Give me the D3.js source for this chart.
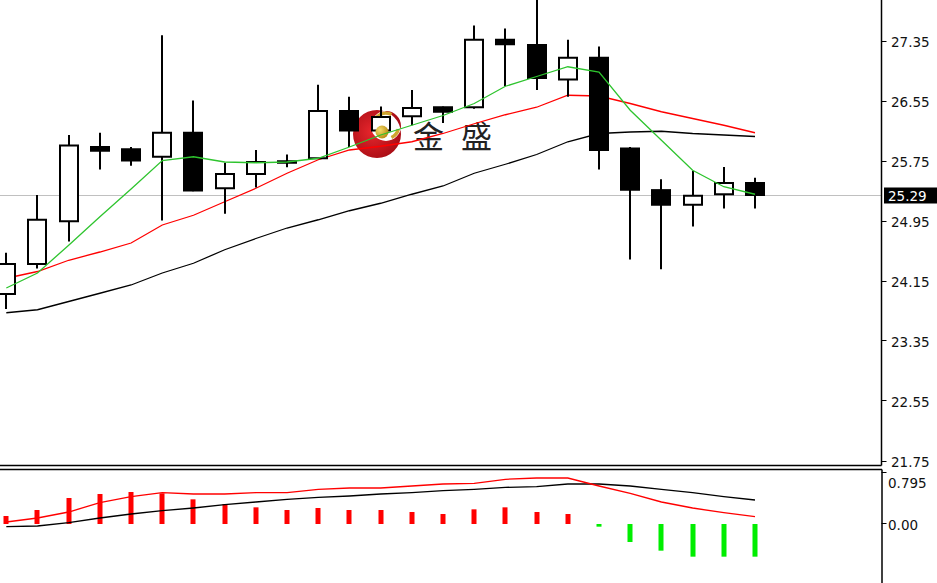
<!DOCTYPE html>
<html>
<head>
<meta charset="utf-8">
<script src="https://cdn.jsdelivr.net/npm/d3@7/dist/d3.min.js"></script>
<style>
html,body{margin:0;padding:0;background:#fff;overflow:hidden;}
svg{display:block;}
</style>
</head>
<body>
<svg id="chart" width="937" height="583"></svg>
<script>
// ---- data ----
const candleIndex = [0,1,2,3,4,5,6,7,8,9,10,11,12,13,14,15,16,17,18,19,20,21,22,23,24];
const openP  = [23.97,24.37,24.94,25.93,25.90,25.80,26.12,25.38,25.57,25.72,25.78,26.41,26.15,26.34,26.46,26.46,27.36,27.29,26.83,27.12,25.91,25.355,25.16,25.30,25.45];
const highP  = [24.52,25.29,26.09,26.12,25.93,27.42,26.55,25.72,25.89,25.83,26.76,26.60,26.47,26.69,26.47,27.55,27.51,27.92,27.36,27.27,25.93,25.50,25.61,25.665,25.52];
const lowP   = [23.77,24.31,24.67,25.63,25.68,24.95,25.34,25.04,25.39,25.66,25.77,25.93,26.13,26.22,26.25,26.44,26.74,26.69,26.60,25.63,24.43,24.30,24.87,25.11,25.11];
const closeP = [24.37,24.96,25.95,25.88,25.75,26.12,25.35,25.57,25.73,25.74,26.41,26.15,26.33,26.45,26.40,27.36,27.30,26.85,27.12,25.89,25.36,25.16,25.28,25.45,25.29];

const maFast = [24.05,24.25,24.62,25.00,25.37,25.75,25.80,25.73,25.72,25.73,25.78,25.93,26.09,26.22,26.35,26.51,26.74,26.87,27.00,26.93,26.42,26.02,25.62,25.40,25.30];
const maMid  = [24.18,24.27,24.42,24.53,24.65,24.89,25.02,25.20,25.38,25.58,25.76,25.89,25.94,26.00,26.11,26.24,26.36,26.46,26.62,26.61,26.51,26.40,26.31,26.22,26.12];
const maSlow = [23.72,23.76,23.87,23.98,24.09,24.25,24.38,24.56,24.71,24.85,24.96,25.08,25.18,25.30,25.41,25.58,25.70,25.83,26.00,26.11,26.13,26.14,26.11,26.09,26.07];

const histValues = [0.12,0.21,0.39,0.45,0.48,0.46,0.37,0.30,0.25,0.21,0.24,0.21,0.21,0.18,0.15,0.22,0.25,0.18,0.15,-0.04,-0.27,-0.40,-0.49,-0.49,-0.49];
const indRed   = [0.03,0.09,0.18,0.32,0.41,0.47,0.45,0.45,0.47,0.47,0.52,0.54,0.54,0.57,0.60,0.61,0.67,0.69,0.69,0.57,0.46,0.33,0.24,0.17,0.11];
const indBlack = [-0.04,-0.03,0.02,0.09,0.15,0.20,0.24,0.29,0.33,0.37,0.40,0.42,0.45,0.47,0.50,0.52,0.55,0.56,0.60,0.60,0.57,0.52,0.47,0.41,0.36];

const priceTicks = [27.35,26.55,25.75,24.95,24.15,23.35,22.55,21.75];
const priceTickLabels = ["27.35","26.55","25.75","24.95","24.15","23.35","22.55","21.75"];
const indTicks = [0.795, 0.00];
const indTickLabels = ["0.795","0.00"];
const currentPrice = 25.29;
const currentPriceLabel = "25.29";
const logoChars = ["金", "盛"];

// ---- layout ----
const W = 937, H = 583;
const plotRight = 881.5;
const mainBottom = 465.5;
const indTop = 469.5;

const svg = d3.select("#chart");
const defs = svg.append("defs");

const x = d3.scaleLinear().domain([0, 24]).range([6.3, 755]);
const y = d3.scaleLinear().domain([21.75, 27.35]).range([460.5, 40.5]);
const yi = d3.scaleLinear().domain([0, 0.795]).range([524, 471]);

svg.append("rect").attr("width", W).attr("height", H).attr("fill", "#fff");

defs.append("clipPath").attr("id", "mainClip")
  .append("rect").attr("x", 0).attr("y", 0).attr("width", plotRight).attr("height", mainBottom);
defs.append("clipPath").attr("id", "indClip")
  .append("rect").attr("x", 0).attr("y", indTop + 1).attr("width", plotRight).attr("height", H - indTop);

const main = svg.append("g").attr("clip-path", "url(#mainClip)");

// current price line
main.append("line")
  .attr("x1", 0).attr("x2", plotRight)
  .attr("y1", Math.round(y(currentPrice)) + 0.5).attr("y2", Math.round(y(currentPrice)) + 0.5)
  .attr("stroke", "#c0c0c0").attr("stroke-width", 1);

// logo (watermark behind the marks)
const logo = main.append("g");
const cx0 = 377, cy0 = 134, R = 24;
const icx = 386, icy = 126, ir = 15;
const crescent = d3.path();
crescent.arc(cx0, cy0, R, 0, 2 * Math.PI);
crescent.moveTo(icx + ir, icy);
crescent.arc(icx, icy, ir, 0, 2 * Math.PI);
const grad = defs.append("radialGradient").attr("id", "redGrad")
  .attr("cx", "40%").attr("cy", "45%").attr("r", "65%");
grad.append("stop").attr("offset", "0%").attr("stop-color", "#e8262c");
grad.append("stop").attr("offset", "100%").attr("stop-color", "#a50c14");
logo.append("path").attr("d", crescent.toString()).attr("fill", "url(#redGrad)").attr("fill-rule", "evenodd");
const goldArc = d3.arc().innerRadius(11).outerRadius(14.5);
logo.append("path")
  .attr("transform", `translate(${icx},${icy})`)
  .attr("d", goldArc({startAngle: -Math.PI * 0.26, endAngle: Math.PI * 0.14}))
  .attr("fill", "#cfa52e");
logo.append("path")
  .attr("transform", `translate(${icx},${icy})`)
  .attr("d", goldArc({startAngle: Math.PI * 0.58, endAngle: Math.PI * 0.86}))
  .attr("fill", "#cfa52e");
const ballGrad = defs.append("radialGradient").attr("id", "ballGrad")
  .attr("cx", "35%").attr("cy", "35%").attr("r", "70%");
ballGrad.append("stop").attr("offset", "0%").attr("stop-color", "#f5dc6a");
ballGrad.append("stop").attr("offset", "100%").attr("stop-color", "#b88a12");
logo.selectAll("text.logo").data(logoChars).join("text")
  .attr("class", "logo")
  .attr("x", (d, i) => 413 + i * 48).attr("y", 148)
  .attr("font-family", "'Noto Sans CJK SC', sans-serif")
  .attr("font-size", 31).attr("fill", "#222")
  .text(d => d);

// moving averages
const lineGen = arr => d3.line().x((d, i) => x(candleIndex[i])).y(d => y(d))(arr);
main.append("path").attr("d", lineGen(maSlow)).attr("fill", "none").attr("stroke", "#000").attr("stroke-width", 1.3);
main.append("path").attr("d", lineGen(maMid)).attr("fill", "none").attr("stroke", "#ff0000").attr("stroke-width", 1.3);

// candles
const bodyW = 18;
const candles = main.append("g").selectAll("g").data(candleIndex).join("g");
candles.append("line")
  .attr("x1", i => Math.round(x(i))).attr("x2", i => Math.round(x(i)))
  .attr("y1", i => y(highP[i])).attr("y2", i => y(lowP[i]))
  .attr("stroke", "#000").attr("stroke-width", 2);
candles.append("rect")
  .attr("x", i => Math.round(x(i)) - bodyW / 2)
  .attr("width", bodyW)
  .attr("y", i => y(Math.max(openP[i], closeP[i])))
  .attr("height", i => Math.max(1, Math.abs(y(openP[i]) - y(closeP[i]))))
  .attr("fill", i => closeP[i] >= openP[i] ? "#fff" : "#000")
  .attr("stroke", "#000").attr("stroke-width", 2);

// gold ball of the logo sits over the candle there
main.append("circle").attr("cx", 382).attr("cy", 132).attr("r", 6.5).attr("fill", "url(#ballGrad)");

main.append("path").attr("d", lineGen(maFast)).attr("fill", "none").attr("stroke", "#2ec42e").attr("stroke-width", 1.3);

// ---- indicator panel ----
const ind = svg.append("g").attr("clip-path", "url(#indClip)");
ind.selectAll("rect.h").data(candleIndex).join("rect")
  .attr("class", "h")
  .attr("x", i => Math.round(x(i)) - 2.5)
  .attr("width", 5)
  .attr("y", i => Math.min(yi(0), yi(histValues[i])))
  .attr("height", i => Math.abs(yi(histValues[i]) - yi(0)))
  .attr("fill", i => histValues[i] >= 0 ? "#ff0000" : "#00ee00");
const indLine = arr => d3.line().x((d, i) => x(candleIndex[i])).y(d => yi(d))(arr);
ind.append("path").attr("d", indLine(indBlack)).attr("fill", "none").attr("stroke", "#000").attr("stroke-width", 1.3);
ind.append("path").attr("d", indLine(indRed)).attr("fill", "none").attr("stroke", "#ff0000").attr("stroke-width", 1.3);

// ---- borders ----
svg.append("line").attr("x1", plotRight).attr("x2", plotRight).attr("y1", 0).attr("y2", mainBottom)
  .attr("stroke", "#000").attr("stroke-width", 1.5);
svg.append("line").attr("x1", 0).attr("x2", plotRight).attr("y1", mainBottom).attr("y2", mainBottom)
  .attr("stroke", "#000").attr("stroke-width", 1.5);
svg.append("line").attr("x1", 0).attr("x2", plotRight + 0.5).attr("y1", indTop).attr("y2", indTop)
  .attr("stroke", "#000").attr("stroke-width", 1.5);
svg.append("line").attr("x1", plotRight + 0.5).attr("x2", plotRight + 0.5).attr("y1", indTop).attr("y2", H)
  .attr("stroke", "#000").attr("stroke-width", 1.5);

// ---- price axis ----
const axisFont = "'DejaVu Sans', Verdana, sans-serif";
const pa = svg.append("g");
pa.selectAll("line").data(priceTicks).join("line")
  .attr("x1", plotRight).attr("x2", plotRight + 5)
  .attr("y1", d => Math.round(y(d)) + 0.5).attr("y2", d => Math.round(y(d)) + 0.5)
  .attr("stroke", "#000").attr("stroke-width", 1);
pa.selectAll("text").data(priceTicks).join("text")
  .attr("x", 891).attr("y", d => y(d) + 1.5)
  .attr("dominant-baseline", "central")
  .attr("font-family", axisFont).attr("font-size", 13.5).attr("fill", "#111")
  .text((d, i) => priceTickLabels[i]);

// current price label
const cpY = y(currentPrice);
svg.append("rect").attr("x", 884).attr("y", cpY - 7.5).attr("width", 53).attr("height", 16).attr("fill", "#000");
svg.append("text").attr("x", 888).attr("y", cpY + 0.5)
  .attr("dominant-baseline", "central")
  .attr("font-family", axisFont).attr("font-size", 13.5).attr("fill", "#fff")
  .text(currentPriceLabel);

// indicator axis
const ia = svg.append("g");
ia.selectAll("line").data(indTicks).join("line")
  .attr("x1", plotRight).attr("x2", plotRight + 5)
  .attr("y1", d => d === 0.795 ? indTop + 3 : Math.round(yi(d)) - 0.5)
  .attr("y2", d => d === 0.795 ? indTop + 3 : Math.round(yi(d)) - 0.5)
  .attr("stroke", "#000").attr("stroke-width", 1);
ia.selectAll("text").data(indTicks).join("text")
  .attr("x", 888).attr("y", d => d === 0.795 ? 483 : yi(d) + 1)
  .attr("dominant-baseline", "central")
  .attr("font-family", axisFont).attr("font-size", 13.5).attr("fill", "#111")
  .text((d, i) => indTickLabels[i]);
</script>
</body>
</html>
